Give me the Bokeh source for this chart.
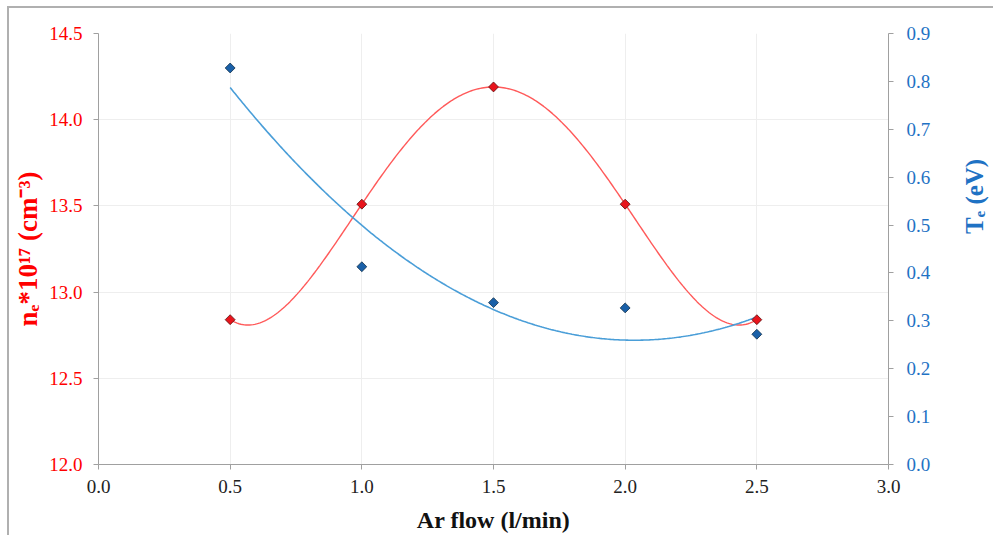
import numpy as np
from bokeh.plotting import figure
from bokeh.layouts import row
from bokeh.models import (LinearAxis, Range1d, SingleIntervalTicker,
                          PrintfTickFormatter, ColumnDataSource)
from bokeh.core.properties import value
from bokeh.embed import file_html
from bokeh.resources import INLINE

# ---- data ----
ar_flow = [0.5, 1.0, 1.5, 2.0, 2.5]
ne_values = [12.84, 13.51, 14.19, 13.51, 12.84]      # n_e * 10^17 (cm^-3)
te_values = [0.828, 0.413, 0.338, 0.327, 0.272]      # T_e (eV)

x_label = "Ar flow (l/min)"
left_label = "n\u2091*10\u00b9\u2077 (cm\u207b\u00b3)"
right_label = "T\u2091 (eV)"

RED = "#ff0000"
BLUE = "#1f72c4"
SERIF = "Liberation Serif"

# trendlines (polynomial fits, as in the original chart)
xs = np.linspace(min(ar_flow), max(ar_flow), 300)
ne_fit = np.polyval(np.polyfit(ar_flow, ne_values, 4), xs)
te_fit = np.polyval(np.polyfit(ar_flow, te_values, 2), xs)

H = 527
p = figure(width=936, height=H, output_backend="svg", toolbar_location=None,
           x_range=Range1d(0, 3), y_range=Range1d(12, 14.5),
           min_border_left=89, min_border_right=57, min_border_top=25,
           min_border_bottom=70, background_fill_color="white",
           border_fill_color="white", outline_line_color=None)

p.extra_y_ranges = {"te": Range1d(0, 0.9)}

# grid
p.xgrid.grid_line_color = "#eeeeee"
p.ygrid.grid_line_color = "#eeeeee"
p.xgrid.ticker = SingleIntervalTicker(interval=0.5)
p.ygrid.ticker = SingleIntervalTicker(interval=0.5)

def style_axis(ax, color, standoff):
    ax.axis_line_color = "#a0a0a0"
    ax.major_tick_line_color = "#a0a0a0"
    ax.major_tick_out = 5
    ax.major_tick_in = 0
    ax.minor_tick_line_color = None
    ax.major_label_text_font = SERIF
    ax.major_label_text_font_size = "19px"
    ax.major_label_text_color = color
    ax.major_label_standoff = standoff
    ax.formatter = PrintfTickFormatter(format="%.1f")

xa = p.xaxis[0]
xa.ticker = SingleIntervalTicker(interval=0.5)
style_axis(xa, "#222222", 10)
xa.axis_label = x_label
xa.axis_label_text_font = SERIF
xa.axis_label_text_font_style = "bold"
xa.axis_label_text_font_size = "24px"
xa.axis_label_text_color = "#111111"
xa.axis_label_standoff = 11

ya = p.yaxis[0]
ya.ticker = SingleIntervalTicker(interval=0.5)
style_axis(ya, RED, 11)
ya.axis_label = left_label
ya.axis_label_text_font = SERIF
ya.axis_label_text_font_style = "bold"
ya.axis_label_text_font_size = "27px"
ya.axis_label_text_color = RED
ya.axis_label_standoff = 3

ra = LinearAxis(y_range_name="te", ticker=SingleIntervalTicker(interval=0.1))
style_axis(ra, BLUE, 13)
p.add_layout(ra, "right")

# trendlines
p.line(xs, ne_fit, line_color="#ff5a5a", line_width=1.4)
p.line(xs, te_fit, line_color="#4a9ed8", line_width=1.6, y_range_name="te")

# points
src = ColumnDataSource(dict(x=ar_flow, ne=ne_values, te=te_values))
p.scatter("x", "ne", source=src, marker="square", angle=np.pi / 4, size=7,
          fill_color="#e8141c", line_color="#5a1010", line_width=0.8)
p.scatter("x", "te", source=src, marker="square", angle=np.pi / 4, size=7,
          fill_color="#1a60a8", line_color="#10304a", line_width=0.8,
          y_range_name="te")

# side panel holding the right axis title (placed higher, as in the original)
side = figure(width=48, height=H, output_backend="svg", toolbar_location=None,
              x_range=Range1d(0, 1), y_range=Range1d(0, 1),
              min_border=0, outline_line_color=None,
              background_fill_color="white", border_fill_color="white")
side.axis.visible = False
side.grid.visible = False
side.text(x=[0.6], y=[0.622], text=[right_label], angle=np.pi / 2,
          text_align="center", text_baseline="middle",
          text_font=value(SERIF), text_font_style="bold",
          text_font_size="25px", text_color=BLUE)

layout = row(p, side, spacing=0)
layout.styles = {"border-left": "2px solid #b0b0b0",
                 "border-top": "2px solid #b0b0b0",
                 "margin-left": "7px", "margin-top": "6px"}

open("out.html", "w").write(file_html(layout, INLINE))
